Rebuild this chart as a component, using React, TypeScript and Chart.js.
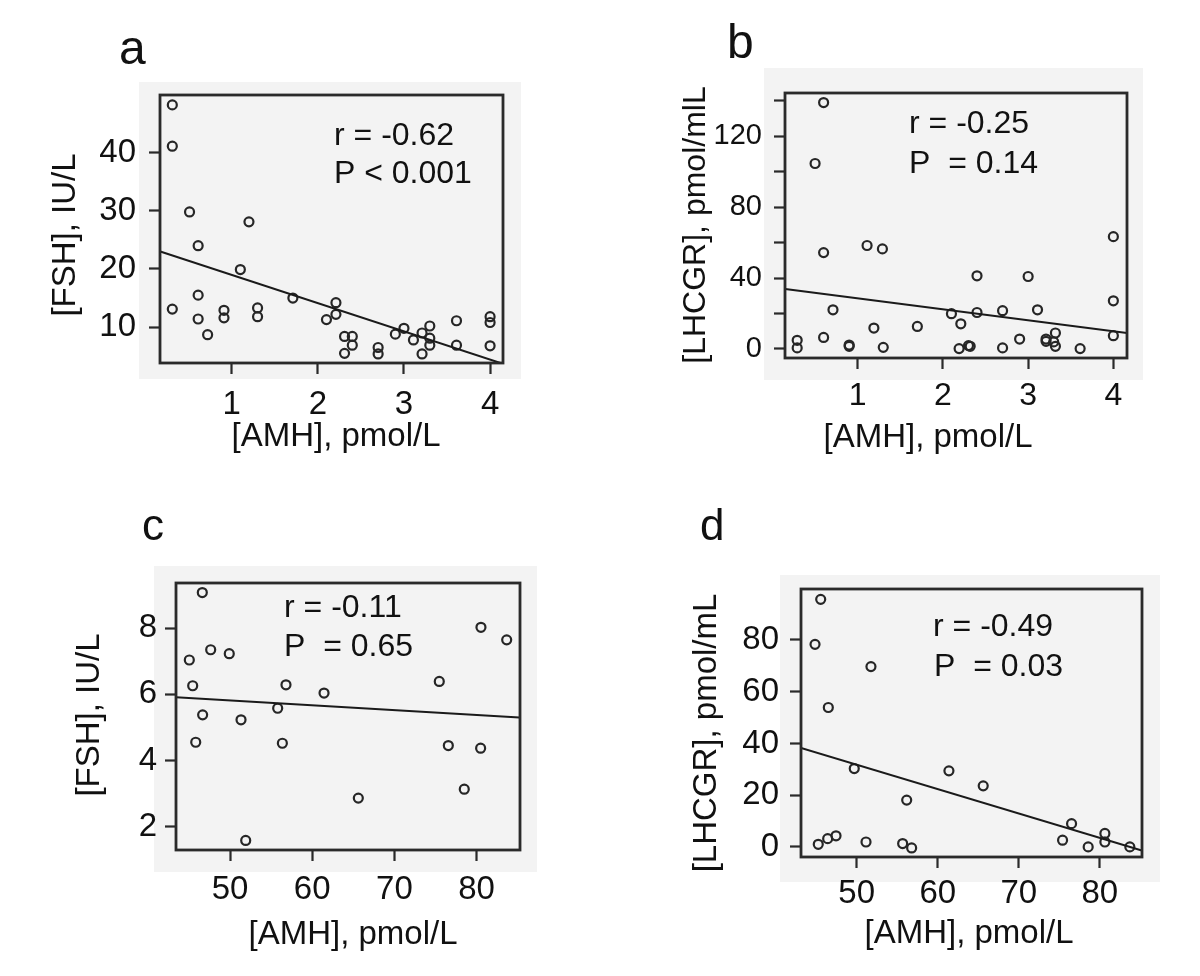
import React, { useEffect, useRef } from 'react';
import { Chart, registerables } from 'chart.js';

Chart.register(...registerables);

// ---------- Panel a: [FSH] vs [AMH] ----------
const aAmh = [0.31, 0.31, 0.31, 0.51, 0.61, 0.61, 0.61, 0.72, 0.91, 0.91, 1.2, 1.1, 1.3, 1.3, 1.71, 2.21, 2.21, 2.1, 2.31, 2.31, 2.4, 2.4, 2.7, 2.7, 2.9, 3.0, 3.11, 3.21, 3.21, 3.3, 3.3, 3.3, 3.61, 3.61, 4.0, 4.0, 4.0];
const aFsh = [48.2, 41.1, 13.1, 29.8, 24.0, 15.5, 11.4, 8.7, 12.9, 11.6, 28.1, 19.9, 13.3, 11.8, 15.0, 14.2, 12.2, 11.3, 8.4, 5.5, 8.4, 6.9, 6.5, 5.4, 8.8, 9.8, 7.8, 9.0, 5.4, 10.2, 8.1, 6.9, 11.1, 6.9, 11.8, 10.8, 6.8];
const aFitX = [0.17, 4.15];
const aFitY = [23.0, 3.7];
const aXTicks = [1, 2, 3, 4];
const aYTicks = [10, 20, 30, 40];

// ---------- Panel b: [LHCGR] vs [AMH] ----------
const bAmh = [0.6, 0.5, 0.6, 0.71, 0.6, 0.29, 0.29, 0.9, 0.9, 1.11, 1.29, 1.19, 1.3, 1.7, 2.1, 2.21, 2.19, 2.3, 2.32, 2.4, 2.4, 2.7, 2.7, 2.9, 3.0, 3.11, 3.21, 3.21, 3.32, 3.32, 3.3, 3.61, 4.0, 4.0, 4.0];
const bLhcgr = [139.1, 104.7, 54.4, 22.1, 6.5, 4.9, 0.6, 1.5, 2.2, 58.4, 56.5, 11.8, 0.9, 12.7, 19.9, 14.2, 0.2, 1.9, 1.5, 41.3, 20.6, 21.6, 0.6, 5.6, 40.9, 22.1, 5.6, 4.3, 9.0, 1.5, 4.0, 0.2, 63.4, 27.2, 7.5];
const bFitX = [0.15, 4.16];
const bFitY = [33.8, 9.0];
const bXTicks = [1, 2, 3, 4];
const bYTicks = [0, 40, 80, 120];

// ---------- Panel c: [FSH] vs [AMH] ----------
const cAmh = [46.63, 45.05, 47.65, 49.91, 45.46, 46.67, 45.83, 51.34, 51.91, 56.81, 55.8, 56.37, 61.44, 65.61, 75.46, 76.56, 78.5, 80.53, 80.49, 83.66];
const cFsh = [9.08, 7.04, 7.35, 7.23, 6.26, 5.38, 4.55, 5.23, 1.58, 6.29, 5.58, 4.52, 6.04, 2.86, 6.39, 4.45, 3.13, 8.03, 4.37, 7.65];
const cFitX = [43.43, 85.2];
const cFitY = [5.91, 5.3];
const cXTicks = [50, 60, 70, 80];
const cYTicks = [2, 4, 6, 8];

// ---------- Panel d: [LHCGR] vs [AMH] ----------
const dAmh = [45.56, 44.86, 51.76, 46.5, 49.7, 61.38, 65.61, 56.17, 45.26, 46.42, 47.45, 51.15, 55.67, 56.78, 75.4, 76.51, 78.56, 80.62, 80.62, 83.7];
const dLhcgr = [95.7, 78.3, 69.7, 53.9, 30.3, 29.4, 23.6, 18.1, 1.0, 3.2, 4.3, 1.9, 1.3, -0.4, 2.6, 9.0, 0.0, 5.2, 1.9, 0.0];
const dFitX = [43.13, 85.18];
const dFitY = [38.3, -1.4];
const dXTicks = [50, 60, 70, 80];
const dYTicks = [0, 20, 40, 60, 80];

const FONT = '"Liberation Sans", Arial, Helvetica, sans-serif';
const CANVAS_W = 600;
const CANVAS_H = 488;
const TITLE_SIZE = 33;
const NOTE_SIZE = 32;

type TextItem = {
  text: string;
  x: number;
  y: number;
  size: number;
  align?: CanvasTextAlign;
  baseline?: CanvasTextBaseline;
  rotate?: boolean;
};

type PanelSpec = {
  left: number;
  top: number;
  xs: number[];
  ys: number[];
  fitX: number[];
  fitY: number[];
  xMin: number;
  xMax: number;
  yMin: number;
  yMax: number;
  xStep: number;
  yStep: number;
  xLabels: number[];
  yLabels: number[];
  area: { l: number; r: number; t: number; b: number };
  bgPad: [number, number, number, number];
  xTickPad: number;
  yTickPad: number;
  xTickSize: number;
  yTickSize: number;
  texts: TextItem[];
};

const decorPlugin = {
  id: 'panelDecor',
  beforeDraw(chart: any, _a: any, opts: any) {
    const { ctx, chartArea: ca } = chart;
    const [pl, pt, pr, pb] = opts.bgPad;
    ctx.save();
    ctx.fillStyle = '#f3f3f3';
    ctx.fillRect(ca.left - pl, ca.top - pt, ca.right - ca.left + pl + pr, ca.bottom - ca.top + pt + pb);
    ctx.restore();
  },
  afterDraw(chart: any, _a: any, opts: any) {
    const { ctx, chartArea: ca } = chart;
    ctx.save();
    ctx.strokeStyle = '#2a2a2a';
    ctx.lineWidth = 2.8;
    ctx.strokeRect(ca.left, ca.top, ca.right - ca.left, ca.bottom - ca.top);
    ctx.fillStyle = '#111';
    for (const t of opts.texts as TextItem[]) {
      ctx.save();
      ctx.font = `${t.size}px ${FONT}`;
      ctx.textAlign = t.align || 'left';
      ctx.textBaseline = t.baseline || 'alphabetic';
      ctx.translate(t.x, t.y);
      if (t.rotate) ctx.rotate(-Math.PI / 2);
      ctx.fillText(t.text, 0, 0);
      ctx.restore();
    }
    ctx.restore();
  },
};

function Panel({ spec }: { spec: PanelSpec }) {
  const ref = useRef<HTMLCanvasElement | null>(null);
  useEffect(() => {
    if (!ref.current) return;
    const s = spec;
    const pts = s.xs.map((x, i) => ({ x, y: s.ys[i] }));
    const fit = s.fitX.map((x, i) => ({ x, y: s.fitY[i] }));
    const chart = new Chart(ref.current, {
      type: 'scatter',
      data: {
        datasets: [
          {
            data: fit,
            showLine: true,
            borderColor: '#1a1a1a',
            borderWidth: 2,
            pointRadius: 0,
            fill: false,
          } as any,
          {
            data: pts,
            pointStyle: 'circle',
            pointRadius: 4.5,
            pointBorderWidth: 2.2,
            pointBorderColor: '#262626',
            pointBackgroundColor: 'rgba(0,0,0,0)',
            showLine: false,
          } as any,
        ],
      },
      plugins: [decorPlugin as any],
      options: {
        responsive: false,
        animation: false,
        devicePixelRatio: 1,
        events: [],
        layout: {
          padding: { left: 0, top: s.area.t, right: CANVAS_W - s.area.r, bottom: 0 },
        },
        plugins: {
          legend: { display: false },
          tooltip: { enabled: false },
          title: { display: false },
          panelDecor: { bgPad: s.bgPad, texts: s.texts },
        } as any,
        scales: {
          x: {
            type: 'linear',
            min: s.xMin,
            max: s.xMax,
            afterFit: (sc: any) => {
              sc.height = CANVAS_H - s.area.b;
            },
            border: { display: false },
            grid: {
              drawOnChartArea: false,
              drawTicks: true,
              tickLength: 11,
              tickWidth: 2.2,
              tickColor: '#2a2a2a',
            },
            ticks: {
              stepSize: s.xStep,
              includeBounds: false,
              color: '#111',
              font: { family: FONT, size: s.xTickSize },
              padding: s.xTickPad,
              maxRotation: 0,
              autoSkip: false,
              callback: (v: any) => (s.xLabels.includes(Number(v)) ? String(v) : ''),
            },
          },
          y: {
            type: 'linear',
            min: s.yMin,
            max: s.yMax,
            afterFit: (sc: any) => {
              sc.width = s.area.l;
            },
            border: { display: false },
            grid: {
              drawOnChartArea: false,
              drawTicks: true,
              tickLength: 11,
              tickWidth: 2.2,
              tickColor: '#2a2a2a',
            },
            ticks: {
              stepSize: s.yStep,
              includeBounds: false,
              color: '#111',
              font: { family: FONT, size: s.yTickSize },
              padding: s.yTickPad,
              autoSkip: false,
              callback: (v: any) => (s.yLabels.includes(Number(v)) ? String(v) : ''),
            },
          },
        },
      } as any,
    });
    return () => chart.destroy();
  }, [spec]);
  return (
    <canvas
      ref={ref}
      width={CANVAS_W}
      height={CANVAS_H}
      style={{ position: 'absolute', left: spec.left, top: spec.top, width: CANVAS_W, height: CANVAS_H }}
    />
  );
}

const X_TITLE = '[AMH], pmol/L';

const panels: PanelSpec[] = [
  {
    left: 0,
    top: 0,
    xs: aAmh,
    ys: aFsh,
    fitX: aFitX,
    fitY: aFitY,
    xMin: 0.167,
    xMax: 4.15,
    yMin: 3.84,
    yMax: 49.9,
    xStep: 1,
    yStep: 10,
    xLabels: aXTicks,
    yLabels: aYTicks,
    area: { l: 160, r: 503, t: 95, b: 363 },
    bgPad: [21, 13, 18, 16],
    xTickPad: 11,
    yTickPad: 13,
    xTickSize: 33,
    yTickSize: 33,
    texts: [
      { text: 'a', x: 119, y: 64, size: 48 },
      { text: 'r = -0.62', x: 334, y: 145, size: NOTE_SIZE },
      { text: 'P < 0.001', x: 334, y: 183, size: NOTE_SIZE },
      { text: X_TITLE, x: 336, y: 437, size: TITLE_SIZE, align: 'center', baseline: 'middle' },
      { text: '[FSH], IU/L', x: 66, y: 235, size: TITLE_SIZE, align: 'center', baseline: 'middle', rotate: true },
    ],
  },
  {
    left: 600,
    top: 0,
    xs: bAmh,
    ys: bLhcgr,
    fitX: bFitX,
    fitY: bFitY,
    xMin: 0.147,
    xMax: 4.16,
    yMin: -5.1,
    yMax: 144.5,
    xStep: 1,
    yStep: 20,
    xLabels: bXTicks,
    yLabels: bYTicks,
    area: { l: 185, r: 527, t: 93, b: 358 },
    bgPad: [21, 25, 16, 22],
    xTickPad: 8,
    yTickPad: 12,
    xTickSize: 32,
    yTickSize: 29,
    texts: [
      { text: 'b', x: 127, y: 58, size: 48 },
      { text: 'r = -0.25', x: 309, y: 133, size: NOTE_SIZE },
      { text: 'P  = 0.14', x: 309, y: 173, size: NOTE_SIZE },
      { text: X_TITLE, x: 328, y: 438, size: TITLE_SIZE, align: 'center', baseline: 'middle' },
      { text: '[LHCGR], pmol/mlL', x: 96, y: 225, size: 32, align: 'center', baseline: 'middle', rotate: true },
    ],
  },
  {
    left: 0,
    top: 488,
    xs: cAmh,
    ys: cFsh,
    fitX: cFitX,
    fitY: cFitY,
    xMin: 43.43,
    xMax: 85.28,
    yMin: 1.29,
    yMax: 9.37,
    xStep: 10,
    yStep: 2,
    xLabels: cXTicks,
    yLabels: cYTicks,
    area: { l: 176, r: 520, t: 95, b: 362 },
    bgPad: [22, 17, 17, 22],
    xTickPad: 9,
    yTickPad: 8,
    xTickSize: 33,
    yTickSize: 33,
    texts: [
      { text: 'c', x: 142, y: 52, size: 44 },
      { text: 'r = -0.11', x: 284, y: 129, size: NOTE_SIZE },
      { text: 'P  = 0.65', x: 284, y: 168, size: NOTE_SIZE },
      { text: X_TITLE, x: 353, y: 447, size: TITLE_SIZE, align: 'center', baseline: 'middle' },
      { text: '[FSH], IU/L', x: 90, y: 227, size: TITLE_SIZE, align: 'center', baseline: 'middle', rotate: true },
    ],
  },
  {
    left: 600,
    top: 488,
    xs: dAmh,
    ys: dLhcgr,
    fitX: dFitX,
    fitY: dFitY,
    xMin: 43.13,
    xMax: 85.2,
    yMin: -3.9,
    yMax: 99.7,
    xStep: 10,
    yStep: 20,
    xLabels: dXTicks,
    yLabels: dYTicks,
    area: { l: 201, r: 542, t: 101, b: 369 },
    bgPad: [21, 14, 18, 25],
    xTickPad: 6,
    yTickPad: 11,
    xTickSize: 33,
    yTickSize: 33,
    texts: [
      { text: 'd', x: 100, y: 52, size: 44 },
      { text: 'r = -0.49', x: 333, y: 148, size: NOTE_SIZE },
      { text: 'P  = 0.03', x: 334, y: 188, size: NOTE_SIZE },
      { text: X_TITLE, x: 369, y: 446, size: TITLE_SIZE, align: 'center', baseline: 'middle' },
      { text: '[LHCGR], pmol/mL', x: 107, y: 245, size: TITLE_SIZE, align: 'center', baseline: 'middle', rotate: true },
    ],
  },
];

export default function App() {
  return (
    <div style={{ position: 'absolute', left: 0, top: 0, width: 1200, height: 976, background: '#fff', overflow: 'hidden' }}>
      {panels.map((p, i) => (
        <Panel key={i} spec={p} />
      ))}
    </div>
  );
}
